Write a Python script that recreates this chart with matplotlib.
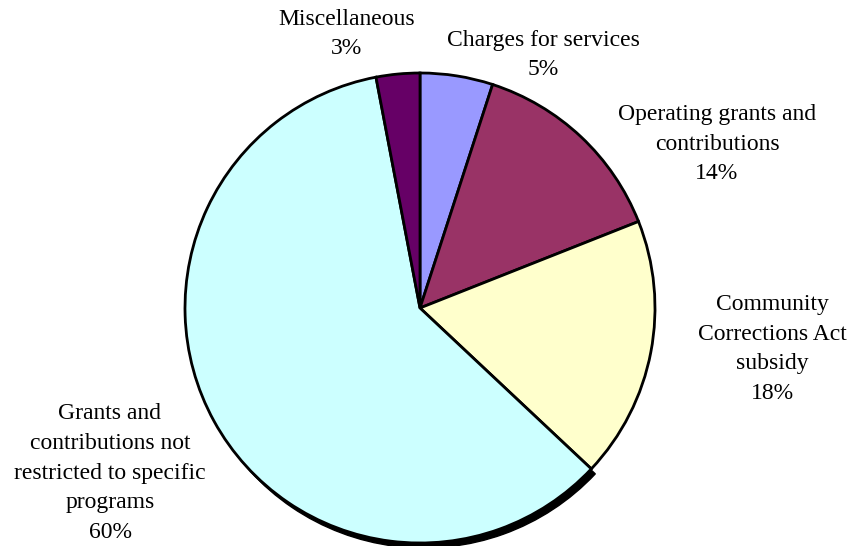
import matplotlib.pyplot as plt
from matplotlib.patches import Wedge

# Data, clockwise from 12 o'clock
labels = ['Charges for services',
          'Operating grants and\ncontributions',
          'Community\nCorrections Act\nsubsidy',
          'Grants and\ncontributions not\nrestricted to specific\nprograms',
          'Miscellaneous']
shares = [5, 14, 18, 60, 3]
colors = ['#9999FF', '#993366', '#FFFFCC', '#CCFFFF', '#660066']

# label anchor positions (pixel coords from top-left)
label_pos = [(543, 55), (717, 144), (772, 349), (110, 473), (347, 34)]

W, H = 851, 546
cx, cy, r = 420, H - 308, 235

plt.rcParams['font.family'] = ['Liberation Serif', 'DejaVu Serif']
fig = plt.figure(figsize=(W / 100, H / 100), dpi=100)
ax = fig.add_axes([0, 0, 1, 1])

# shadow under the biggest slice
total = sum(shares)
start = 90 - 360 * sum(shares[:3]) / total
end = start - 360 * shares[3] / total
ax.add_patch(Wedge((cx + 4, cy - 5), r, end, start, facecolor='black',
                   edgecolor='black', zorder=0))

ax.pie(shares, colors=colors, startangle=90, counterclock=False,
       center=(cx, cy), radius=r, frame=True,
       wedgeprops=dict(edgecolor='black', linewidth=2))
ax.set_xlim(0, W)
ax.set_ylim(0, H)
ax.set_aspect('equal')
ax.axis('off')

for lab, s, (x, y) in zip(labels, shares, label_pos):
    ax.text(x, H - y, lab + '\n' + str(s) + '%', ha='center', va='center',
            fontsize=17, linespacing=1.55, color='black')

plt.savefig('out.png', dpi=100)
